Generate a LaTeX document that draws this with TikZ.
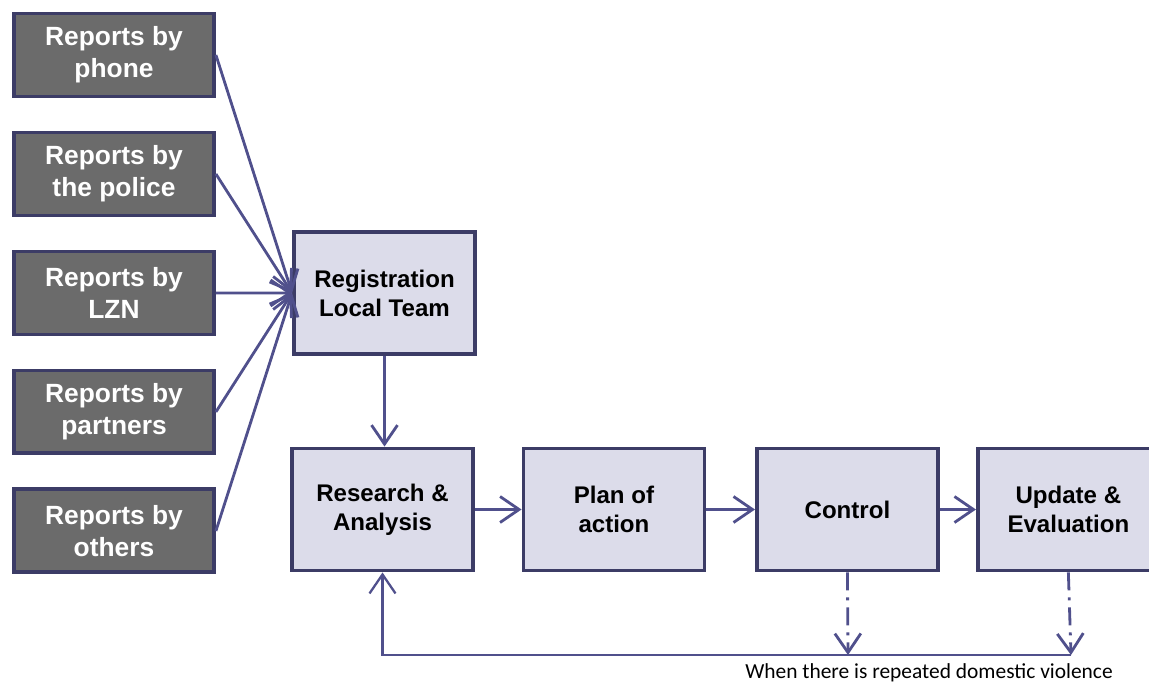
\documentclass[tikz,border=0pt]{standalone}
\usepackage{fontspec}
\setmainfont{Liberation Sans}
\newfontfamily\notefont{Carlito}
\usetikzlibrary{arrows.meta, positioning}
\definecolor{boxborder}{HTML}{3C3C66}
\definecolor{reportfill}{HTML}{6B6B6B}
\definecolor{stepfill}{HTML}{DCDCEA}
\definecolor{flowline}{HTML}{50508C}

\begin{document}
\begin{tikzpicture}[x=0.02cm,y=0.02cm,node distance=2.38cm,
  >={Straight Barb[length=0.38cm,width=0.52cm]}]
  \tikzstyle{report}=[draw=boxborder,line width=2.2pt,fill=reportfill,
    minimum width=4cm,minimum height=1.66cm,align=center,
    text=white,font=\fontsize{15}{18}\selectfont\bfseries]
  \tikzstyle{stepbox}=[draw=boxborder,line width=2.2pt,fill=stepfill,
    minimum width=3.62cm,minimum height=2.44cm,align=center,
    font=\fontsize{13.7}{16.5}\selectfont\bfseries]
  \tikzstyle{flow}=[color=flowline,line width=1.6pt]
  \useasboundingbox (0,0) rectangle (1149,684);

  \node[report]  (phone)    at (114,629)          {Reports by\\phone};
  \node[report]  (police)   [below of=phone]      {Reports by\\the police};
  \node[report]  (lzn)      [below of=police]     {Reports by\\LZN};
  \node[report]  (partners) [below of=lzn]        {Reports by\\partners};
  \node[report]  (others)   [below of=partners]   {Reports by\\others};

  \node[stepbox] (reg)      at (384.5,391)        {Registration\\Local Team};
  \node[stepbox] (research) at (382.5,174.5)      {Research \&\\Analysis};
  \node[stepbox] (plan)     [right of=research,node distance=4.63cm] {Plan of\\action};
  \node[stepbox] (control)  [right of=plan,node distance=4.67cm]     {Control};
  \node[stepbox] (update)   [right of=control,node distance=4.42cm]  {Update \&\\Evaluation};

  \coordinate (ctrlend) at (848,29);
  \coordinate (updend)  at (1071,29);
  \coordinate (regdrop) at (reg.south |- research.north);

  \path[->,flow]
  (phone.east)    edge (reg.west)
  (police.east)   edge (reg.west)
  (lzn.east)      edge (reg.west)
  (partners.east) edge (reg.west)
  (others.east)   edge (reg.west)
  (reg.south)     edge (regdrop)
  (research)      edge (plan)
  (plan)          edge (control)
  (control)       edge (update)
  ;

  % repeated violence loops back
  \path[->,flow,dash pattern=on 0.36cm off 0.14cm on 0.06cm off 0.14cm]
  (control.south) edge (ctrlend)
  (update.south)  edge (updend)
  ;
  \draw[->,flow,line width=1.3pt]
  (updend) -- (ctrlend) -- (research.south |- ctrlend) -- (research.south);

  \node[font=\notefont\fontsize{12.2}{14}\selectfont] (note) at (929,11)
    {When there is repeated domestic violence};
\end{tikzpicture}
\end{document}
